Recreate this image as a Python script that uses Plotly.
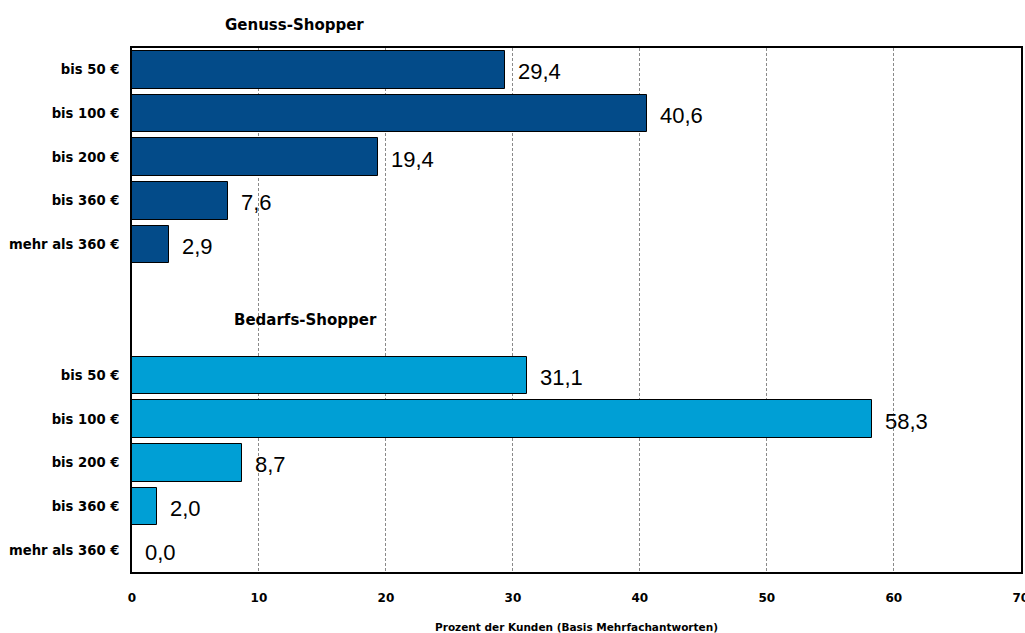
import plotly.graph_objects as go

categories = ["bis 50 €", "bis 100 €", "bis 200 €", "bis 360 €", "mehr als 360 €"]
genuss_values = [29.4, 40.6, 19.4, 7.6, 2.9]
bedarf_values = [31.1, 58.3, 8.7, 2.0, 0.0]
group_titles = ["Genuss-Shopper", "Bedarfs-Shopper"]
x_ticks = [0, 10, 20, 30, 40, 50, 60, 70]

genuss_pos = list(range(0, 5))
bedarf_pos = list(range(7, 12))

def fmt(v):
    return f"{v:.1f}".replace(".", ",")

fig = go.Figure()
fig.add_trace(go.Bar(
    y=genuss_pos, x=genuss_values, orientation="h", width=0.86,
    marker=dict(color="#034B89", line=dict(color="#000000", width=1)),
    showlegend=False, hoverinfo="x",
))
fig.add_trace(go.Bar(
    y=bedarf_pos, x=bedarf_values, orientation="h", width=0.86,
    marker=dict(color="#009FD5", line=dict(color="#000000", width=1)),
    showlegend=False, hoverinfo="x",
))

for pos, v in list(zip(genuss_pos, genuss_values)) + list(zip(bedarf_pos, bedarf_values)):
    fig.add_annotation(x=v, y=pos, text=fmt(v), showarrow=False, xanchor="left",
                       xshift=11, yshift=-2,
                       font=dict(family="Liberation Sans, Arial", size=22, color="#000"))

fig.add_annotation(x=0.183, xref="paper", xanchor="center", y=1, yref="paper", yanchor="bottom",
                   text="<b>" + group_titles[0] + "</b>", showarrow=False, yshift=12,
                   font=dict(family="DejaVu Sans", size=15, color="#000"))
fig.add_annotation(x=0.195, xref="paper", xanchor="center", y=5.72,
                   text="<b>" + group_titles[1] + "</b>", showarrow=False,
                   font=dict(family="DejaVu Sans", size=15, color="#000"))

fig.update_layout(
    width=1025, height=633,
    margin=dict(l=132, r=4, t=48, b=61, autoexpand=False),
    plot_bgcolor="white", paper_bgcolor="white",
    bargap=0,
    xaxis=dict(range=[0, 70.02], tickvals=x_ticks, ticks="", showgrid=True,
               gridcolor="#8a8a8a", griddash="3px,2px", gridwidth=1,
               showline=True, linecolor="#000", linewidth=2, mirror=True,
               zeroline=False, automargin=False, ticklabelstandoff=14,
               ticklabeloverflow="allow",
               tickfont=dict(family="DejaVu Sans", size=12, color="#000", weight="bold"),
               title=dict(text="<b>Prozent der Kunden (Basis Mehrfachantworten)</b>",
                          font=dict(family="DejaVu Sans", size=10.5, color="#000"), standoff=20)),
    yaxis=dict(range=[11.5, -0.5], tickvals=genuss_pos + bedarf_pos,
               ticktext=categories + categories, showgrid=False, zeroline=False,
               showline=True, linecolor="#000", linewidth=2, mirror=True,
               ticks="", ticklabelstandoff=8, automargin=False,
               tickfont=dict(family="DejaVu Sans", size=13.2, color="#000", weight="bold")),
)

fig.write_html("out.html", config={"displayModeBar": False},
               post_script="document.body.style.margin='0';document.body.style.overflow='hidden';")
